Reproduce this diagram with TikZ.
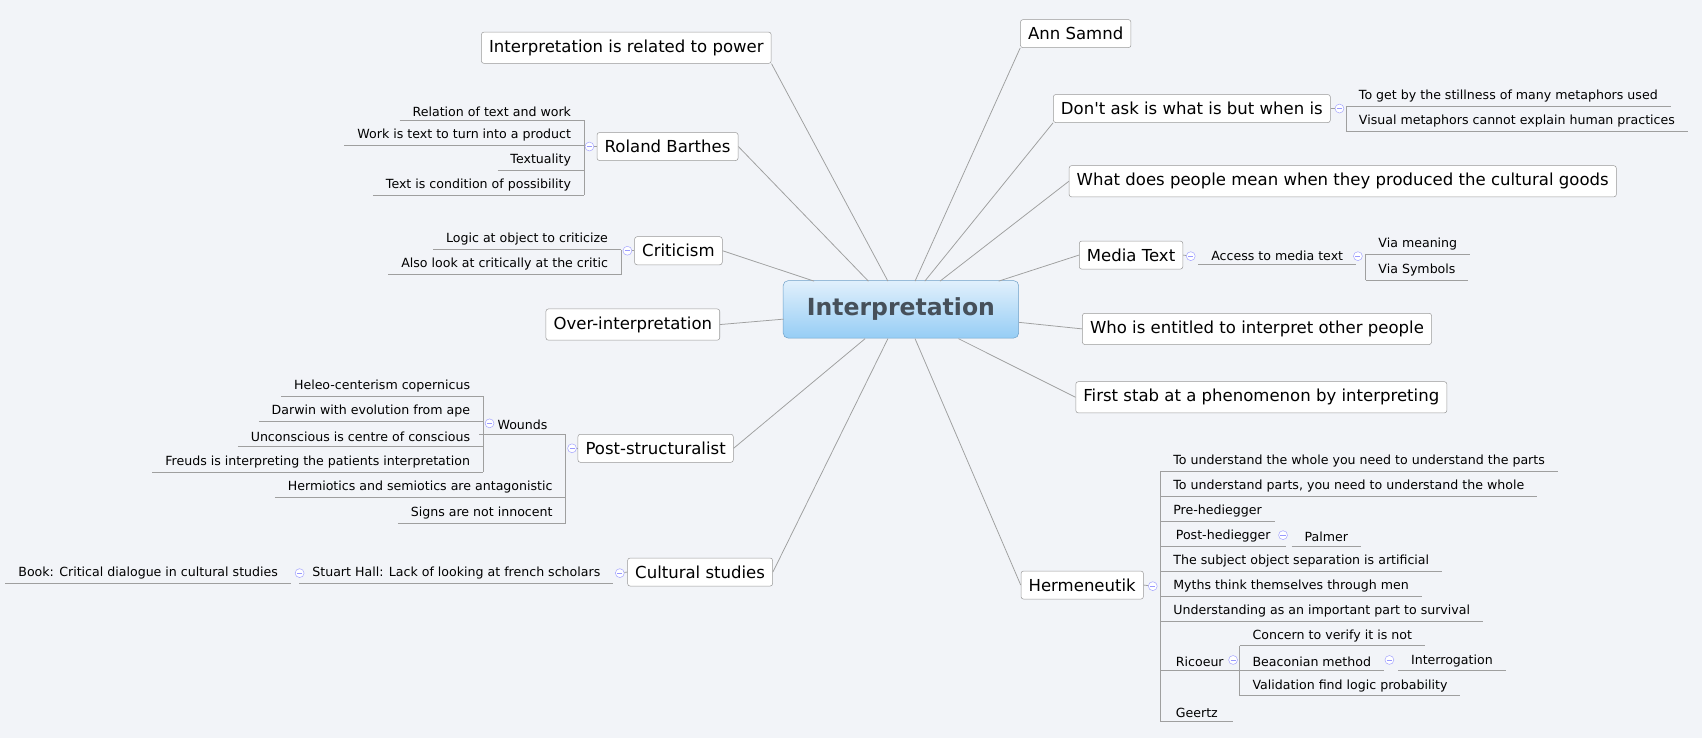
\documentclass[tikz,border=0pt]{standalone}
\usepackage{fontspec}
\newfontfamily\mf{DejaVu Sans}
\begin{document}
\begin{tikzpicture}[x=0.03cm,y=-0.03cm,
  main/.style={draw=gray!80, fill=white, rounded corners=2pt, font=\mf\fontsize{13}{15}\selectfont, inner xsep=6pt, inner ysep=6pt},
  ln/.style={draw=gray!75, line width=0.6pt},
  leafL/.style={anchor=south east, inner xsep=10pt, inner ysep=3pt, font=\mf\fontsize{9.9}{11}\selectfont, append after command={(\tikzlastnode.south west) edge[ln] (\tikzlastnode.south east)}},
  leafR/.style={anchor=south west, inner xsep=10pt, inner ysep=3pt, font=\mf\fontsize{9.9}{11}\selectfont, append after command={(\tikzlastnode.south west) edge[ln] (\tikzlastnode.south east)}},
  tog/.style={circle, draw=blue!35, fill=white, inner sep=0pt, minimum size=7pt, path picture={\draw[blue!40] ([xshift=-2pt]path picture bounding box.center) -- ([xshift=2pt]path picture bounding box.center);}}]
\fill[fill={rgb,255:red,242;green,244;blue,248}] (0,0) rectangle (1568,680);
\useasboundingbox (0,0) rectangle (1568,680);

% central
\node[draw={rgb,255:red,110;green,160;blue,200}, rounded corners=4pt, top color={rgb,255:red,225;green,240;blue,252}, bottom color={rgb,255:red,150;green,205;blue,245}, minimum width=217*0.03cm, minimum height=53*0.03cm, font=\mf\fontsize{18.5}{21}\selectfont\bfseries, text={rgb,255:red,70;green,80;blue,90}] (c) at (830,285) {Interpretation};

% main nodes
\node[main] (pow) at (577,44) {Interpretation is related to power};
\node[main] (rb) at (615,135) {Roland Barthes};
\node[main] (cr) at (625,231) {Criticism};
\node[main] (ov) at (583,299) {Over-interpretation};
\node[main] (ps) at (604,413) {Post-structuralist};
\node[main] (cs) at (645,527) {Cultural studies};
\node[main] (an) at (991,31) {Ann Samnd};
\node[main] (da) at (1098,100) {Don't ask is what is but when is};
\node[main] (wd) at (1237,167) {What does people mean when they produced the cultural goods};
\node[main] (mt) at (1042,235) {Media Text};
\node[main] (we) at (1158,303) {Who is entitled to interpret other people};
\node[main] (fs) at (1162,366) {First stab at a phenomenon by interpreting};
\node[main] (he) at (997,539) {Hermeneutik};

\coordinate (c1) at (818,259); \coordinate (c2) at (800,259); \coordinate (c3) at (750,259);
\coordinate (c4) at (722,294); \coordinate (c5) at (797,312); \coordinate (c6) at (818,312);
\coordinate (c7) at (843,259); \coordinate (c8) at (852,259); \coordinate (c9) at (866,259);
\coordinate (c10) at (920,259); \coordinate (c11) at (939,297); \coordinate (c12) at (883,312);
\coordinate (c13) at (843,312);
\draw[ln] (c1) -- (pow.south east);
\draw[ln] (c2) -- (rb.east);
\draw[ln] (c3) -- (cr.east);
\draw[ln] (c4) -- (ov.east);
\draw[ln] (c5) -- (ps.east);
\draw[ln] (c6) -- (cs.east);
\draw[ln] (c7) -- (an.south west);
\draw[ln] (c8) -- (da.south west);
\draw[ln] (c9) -- (wd.west);
\draw[ln] (c10) -- (mt.west);
\draw[ln] (c11) -- (we.west);
\draw[ln] (c12) -- (fs.west);
\draw[ln] (c13) -- (he.west);

% Roland Barthes
\node[tog] (t1) at (543,135) {};
\draw[ln] (rb.west) -- (t1);
\draw[ln] (538,111) -- (538,180);
\node[leafL] (r1) at (538,111) {Relation of text and work};
\node[leafL] (r2) at (538,134) {Work is text to turn into a product};
\node[leafL] (r3) at (538,157) {Textuality};
\node[leafL] (r4) at (538,180) {Text is condition of possibility};

% Criticism
\node[tog] (t2) at (578,231) {};
\draw[ln] (cr.west) -- (t2);
\draw[ln] (572,230) -- (572,253);
\node[leafL] (k1) at (572,230) {Logic at object to criticize};
\node[leafL] (k2) at (572,253) {Also look at critically at the critic};

% Post-structuralist
\node[tog] (t3) at (527,413) {};
\draw[ln] (ps.west) -- (t3);
\draw[ln] (521,400) -- (521,482);
\node[leafL, inner xsep=14pt] (w) at (521,400) {Wounds};
\node[tog] (t4) at (451,390) {};
\draw[ln] (445,365) -- (445,435);
\node[leafL] (w1) at (445,365) {Heleo-centerism copernicus};
\node[leafL] (w2) at (445,388) {Darwin with evolution from ape};
\node[leafL] (w3) at (445,411) {Unconscious is centre of conscious};
\node[leafL] (w4) at (445,435) {Freuds is interpreting the patients interpretation};
\node[leafL] (p5) at (521,458) {Hermiotics and semiotics are antagonistic};
\node[leafL] (p6) at (521,482) {Signs are not innocent};

% Cultural studies
\node[tog] (t5) at (571,528) {};
\draw[ln] (cs.west) -- (t5);
\node[leafL] (s1) at (565,537) {Stuart Hall: Lack of looking at french scholars};
\node[tog] (t6) at (276,528) {};
\node[leafL] (s2) at (268,537) {Book: Critical dialogue in cultural studies};

% Don't ask
\node[tog] (t7) at (1234,100) {};
\draw[ln] (da.east) -- (t7);
\draw[ln] (1240,98) -- (1240,121);
\node[leafR] (d1) at (1240,98) {To get by the stillness of many metaphors used};
\node[leafR] (d2) at (1240,121) {Visual metaphors cannot explain human practices};

% Media text
\node[tog] (t8) at (1097,236) {};
\draw[ln] (mt.east) -- (t8);
\node[leafR] (m1) at (1104,244) {Access to media text};
\node[tog] (t9) at (1251,236) {};
\draw[ln] (1258,234) -- (1258,258);
\node[leafR] (m2) at (1258,234) {Via meaning};
\node[leafR] (m3) at (1258,258) {Via Symbols};

% Hermeneutik
\node[tog] (t10) at (1062,540) {};
\draw[ln] (he.east) -- (t10);
\draw[ln] (1069,434) -- (1069,665);
\node[leafR] (h1) at (1069,434) {To understand the whole you need to understand the parts};
\node[leafR] (h2) at (1069,457) {To understand parts, you need to understand the whole};
\node[leafR] (h3) at (1069,480) {Pre-hediegger};
\node[leafR, inner xsep=12pt] (h4) at (1069,503) {Post-hediegger};
\node[tog] (t11) at (1182,493) {};
\node[leafR] (h4a) at (1190,503) {Palmer};
\node[leafR] (h5) at (1069,526) {The subject object separation is artificial};
\node[leafR] (h6) at (1069,549) {Myths think themselves through men};
\node[leafR] (h7) at (1069,572) {Understanding as an important part to survival};
\node[leafR, inner xsep=12pt] (h8) at (1069,618) {Ricoeur};
\node[tog] (t12) at (1136,608) {};
\draw[ln] (1142,595) -- (1142,641);
\node[leafR] (q1) at (1142,595) {Concern to verify it is not};
\node[leafR] (q2) at (1142,618) {Beaconian method};
\node[tog] (t13) at (1280,608) {};
\node[leafR] (q2a) at (1288,618) {Interrogation};
\node[leafR] (q3) at (1142,641) {Validation find logic probability};
\node[leafR, inner xsep=12pt] (h9) at (1069,665) {Geertz};
\end{tikzpicture}
\end{document}
